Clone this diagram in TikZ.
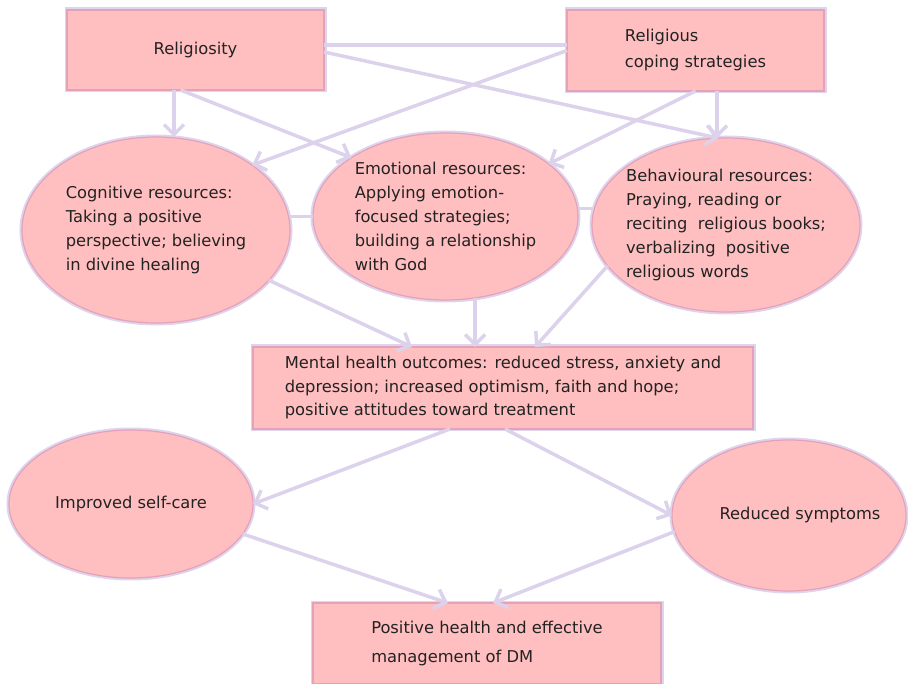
\documentclass[tikz,border=0pt]{standalone}
\usepackage{fontspec}
\setmainfont{DejaVu Sans}
\usetikzlibrary{arrows.meta,shapes.geometric}
\definecolor{boxfill}{HTML}{FFBFC0}
\definecolor{boxedge}{HTML}{E4A2B8}
\definecolor{boxhalo}{HTML}{DED4EE}
\definecolor{linkcol}{HTML}{DCD2EC}
\definecolor{textcol}{HTML}{222222}
\tikzset{
  boxnode/.style={rectangle, fill=boxfill, draw=boxedge, line width=1.2pt, preaction={draw=boxhalo, line width=5pt}, align=left, inner sep=0pt, outer sep=0pt, text=textcol, font=\fontsize{16.3}{24}\selectfont},
  ovalnode/.style={boxnode, ellipse, inner sep=-40pt},
  link/.style={draw=linkcol, line width=3.5pt},
  arrowlink/.style={link, -{Straight Barb[length=10pt,width=20pt]}},
}

\begin{document}
\begin{tikzpicture}[x=1pt,y=-1pt]
    \useasboundingbox (0,0) rectangle (908,684);

    % top boxes
    \node[boxnode, minimum width=257pt, minimum height=80pt] (relig) at (195.5,50) {Religiosity};
    \node[boxnode, minimum width=257pt, minimum height=81pt, font=\fontsize{16.3}{26}\selectfont] (coping) at (695.5,50.5) {Religious\\coping strategies};

    % resources
    \node[ovalnode, minimum width=268pt, minimum height=186pt] (cog) at (156,230) {Cognitive resources:\\Taking a positive\\perspective; believing\\in divine healing};
    \node[ovalnode, minimum width=265pt, minimum height=167pt] (emo) at (445.5,216.5) {Emotional resources:\\Applying emotion-\\focused strategies;\\building a relationship\\with God};
    \node[ovalnode, minimum width=268pt, minimum height=174pt] (beh) at (726,225) {Behavioural resources:\\Praying, reading or\\reciting\ \ religious books;\\verbalizing\ \ positive\\religious words};

    % outcomes
    \node[boxnode, minimum width=500pt, minimum height=82pt, font=\fontsize{16.3}{23.5}\selectfont] (mental) at (503,388) {Mental health outcomes: reduced stress, anxiety and\\depression; increased optimism, faith and hope;\\positive attitudes toward treatment};
    \node[ovalnode, minimum width=244pt, minimum height=148pt] (imp) at (131,504) {Improved self-care};
    \node[ovalnode, minimum width=234pt, minimum height=151pt] (red) at (789,515.5) {\hspace*{22pt}Reduced symptoms};
    \node[boxnode, minimum width=348pt, minimum height=81pt, font=\fontsize{16.3}{29}\selectfont] (pos) at (487,643.5) {Positive health and effective\\management of DM};

    % links from the top
    \draw[link] ([yshift=5pt]relig.east) -- ([yshift=5pt]relig.east -| coping.west);
    \draw[arrowlink] ([xshift=-21.5pt]relig.south) -- ([xshift=-21.5pt]relig.south |- cog.north);
    \draw[arrowlink] ([xshift=-15pt]relig.south) -- (emo.148);
    \draw[arrowlink] ([yshift=-2pt]relig.east) -- (beh.95);
    \draw[arrowlink] (coping.west) -- (cog.34);
    \draw[arrowlink] (coping.south) -- (emo.27);
    \draw[arrowlink] ([xshift=21.5pt]coping.south) -- ([xshift=21.5pt]coping.south |- beh.north);

    % between resources
    \draw[link] (cog.east |- emo.west) -- (emo.west);
    \draw[link] ([yshift=8pt]emo.east) -- ([yshift=8pt]emo.east -| beh.west);

    % to mental health
    \draw[arrowlink] (cog.-24) -- ([xshift=-91pt]mental.north);
    \draw[arrowlink] (emo.-70) -- (emo.-70 |- mental.north);
    \draw[arrowlink] (beh.199) -- ([xshift=32pt]mental.north);

    % lower part
    \draw[arrowlink] ([xshift=-53pt]mental.south) -- (imp.east);
    \draw[arrowlink] ([xshift=2pt]mental.south) -- (red.west);
    \draw[arrowlink] (imp.-15) -- ([xshift=-39pt]pos.north);
    \draw[arrowlink] (red.188) -- ([xshift=6pt]pos.north);

\end{tikzpicture}
\end{document}
